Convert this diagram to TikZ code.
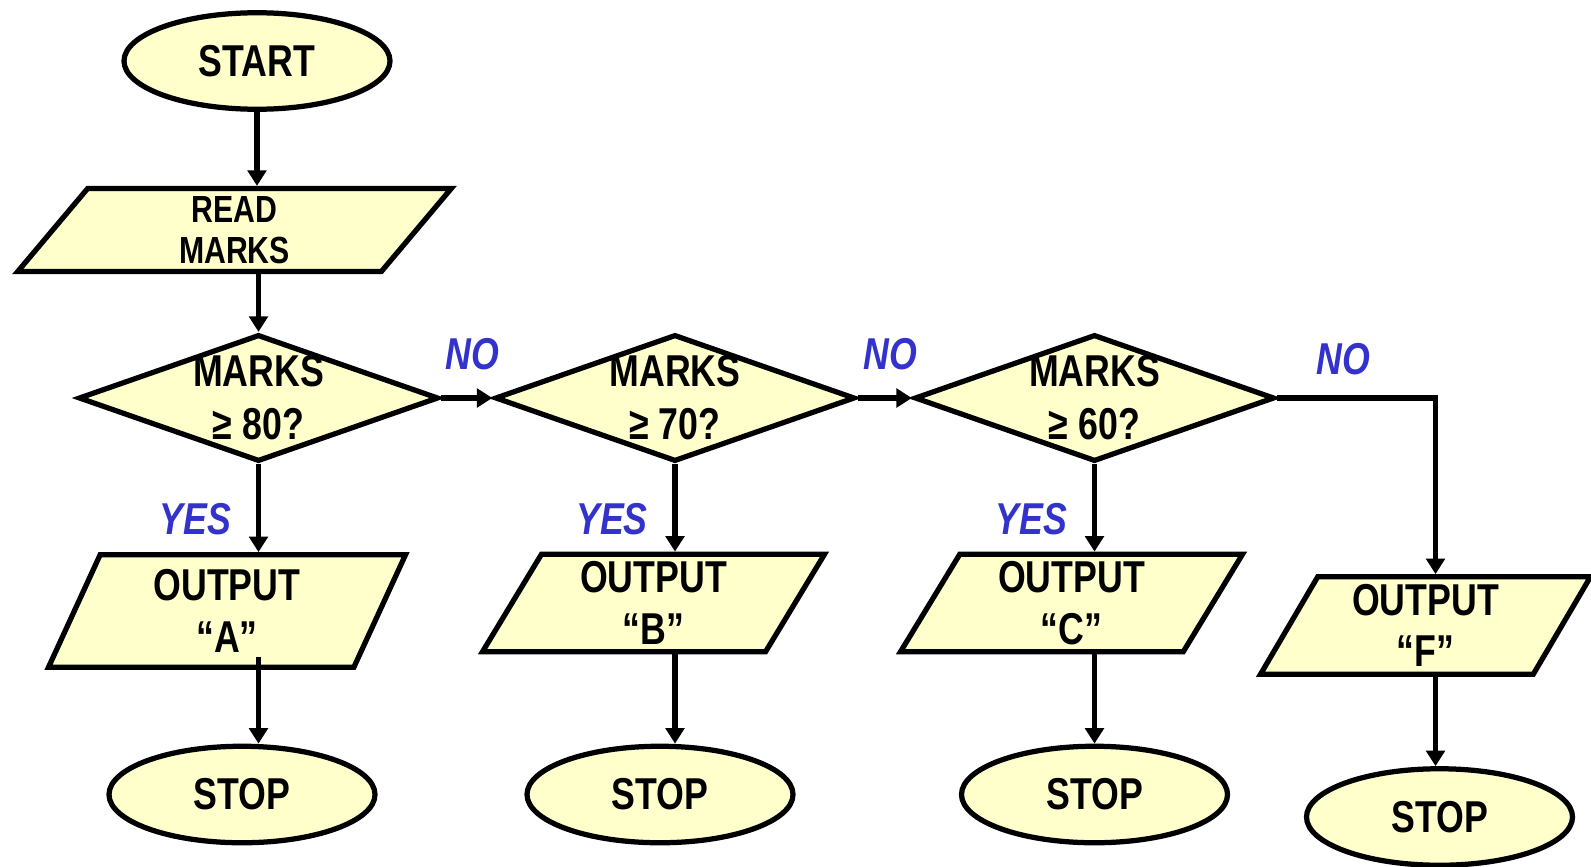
\documentclass[tikz,border=0pt]{standalone}
\usepackage{fontspec}
\setmainfont[FakeStretch=0.8]{Liberation Sans}
\usetikzlibrary{shapes.geometric}
\usetikzlibrary{arrows.meta}
\definecolor{boxfill}{RGB}{255,255,204}
\definecolor{answer}{RGB}{51,51,204}

\begin{document}
\begin{tikzpicture}[
  boxbase/.style={draw,line width=0.105cm,fill=boxfill,align=center,inner sep=0pt,font=\bfseries\fontsize{25.4}{29.3}\selectfont},
  term/.style={boxbase,ellipse,minimum width=5.32cm,minimum height=1.93cm},
  io/.style={boxbase,trapezium,trapezium stretches body=true},
  test/.style={boxbase,diamond,aspect=2.8,inner sep=-0.25cm,minimum width=7.2cm,minimum height=2.54cm,
    font=\bfseries\fontsize{25.4}{30.2}\selectfont},
  flow/.style={line width=0.11cm,-{Triangle[width=0.37cm,length=0.31cm]}},
  lbl/.style={text=answer,inner sep=0pt,font=\bfseries\itshape\fontsize{25.4}{27.6}\selectfont}]
  \useasboundingbox (0,0) rectangle (31.82,-17.32);

  \node[term] (start) at (5.14,-1.22) {START};
  \node[io,trapezium left angle=44,trapezium right angle=136,minimum width=8.67cm,minimum height=1.66cm,
    font=\bfseries\fontsize{21.5}{23.4}\selectfont] (read) at (4.69,-4.6) {READ\\MARKS};

  \node[test] (d1) at (5.17,-7.96) {MARKS\\≥ 80?};
  \node[test] (d2) at (13.5,-7.96) {MARKS\\≥ 70?};
  \node[test] (d3) at (21.89,-7.96) {MARKS\\≥ 60?};

  \node[io,trapezium left angle=58,trapezium right angle=122,minimum width=7.14cm,minimum height=2.25cm] (oA) at (4.54,-12.22) {OUTPUT\\“A”};
  \node[io,trapezium left angle=54.5,trapezium right angle=125.5,minimum width=6.84cm,minimum height=1.95cm] (oB) at (13.07,-12.06) {OUTPUT\\“B”};
  \node[io,trapezium left angle=54.5,trapezium right angle=125.5,minimum width=6.84cm,minimum height=1.95cm] (oC) at (21.43,-12.06) {OUTPUT\\“C”};
  \node[io,trapezium left angle=55.3,trapezium right angle=124.7,minimum width=6.6cm,minimum height=1.95cm] (oF) at (28.51,-12.51) {OUTPUT\\“F”};

  \node[term] (s1) at (4.84,-15.89) {STOP};
  \node[term] (s2) at (13.2,-15.89) {STOP};
  \node[term] (s3) at (21.89,-15.89) {STOP};
  \node[term] (s4) at (28.79,-16.34) {STOP};

  % main column
  \draw[flow] (start.south) -- (start.south |- read.north);
  \draw[flow] (d1.north |- read.south) -- (d1.north);

  % the NO branches
  \draw[flow] (d1.east) -- node[lbl,above=0.51cm,xshift=0.12cm] {NO} (d2.west);
  \draw[flow] (d2.east) -- node[lbl,above=0.51cm,xshift=0.12cm] {NO} (d3.west);
  \draw[flow] (d3.east) -| node[lbl,pos=0.21,above=0.41cm] {NO} ([xshift=0.2cm]oF.north);

  % the YES branches
  \draw[flow] (d1.south) -- node[lbl,pos=0.63,left=0.49cm] {YES} (d1.south |- oA.north);
  \draw[flow] (d2.south) -- node[lbl,pos=0.63,left=0.49cm] {YES} (d2.south |- oB.north);
  \draw[flow] (d3.south) -- node[lbl,pos=0.63,left=0.49cm] {YES} (d3.south |- oC.north);

  % outputs to stops
  \draw[flow,shorten <=-0.26cm] (d1.south |- oA.south) -- (d1.south |- s1.north);
  \draw[flow] (d2.south |- oB.south) -- (d2.south |- s2.north);
  \draw[flow] (d3.south |- oC.south) -- (d3.south |- s3.north);
  \draw[flow] ([xshift=0.2cm]oF.south) -- ([xshift=0.2cm]oF.south |- s4.north);
\end{tikzpicture}
\end{document}
